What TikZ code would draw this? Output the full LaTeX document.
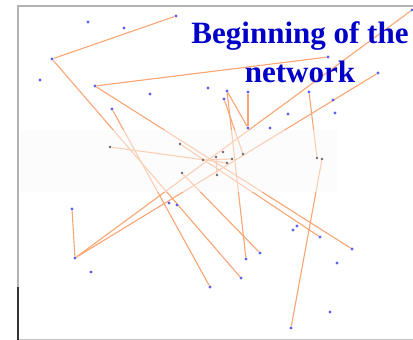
\documentclass[tikz,border=0pt]{standalone}
\usepackage{fontspec}
\setmainfont{Liberation Serif}
\pgfdeclarelayer{bg}
\pgfdeclarelayer{edges}
\pgfdeclarelayer{band}
\pgfsetlayers{bg,edges,band,main}
\definecolor{edgeorange}{RGB}{250,165,115}
\definecolor{dotblue}{RGB}{95,95,240}
\definecolor{dotgray}{RGB}{110,100,110}
\definecolor{titleblue}{RGB}{0,0,200}
\definecolor{bandtint}{RGB}{250,250,250}
\tikzset{
  dot/.style={circle, fill=dotblue, inner sep=0pt, minimum size=3.2pt},
  bdot/.style={circle, fill=dotgray, inner sep=0pt, minimum size=2.6pt},
  edge/.style={draw=edgeorange, line width=1.1pt},
  titletext/.style={font=\fontsize{31}{36}\selectfont\bfseries, text=titleblue, anchor=base, inner sep=0pt},
}
\begin{document}
\begin{tikzpicture}[x=1pt,y=-1pt]
\useasboundingbox (0,0) rectangle (413,340);
\begin{pgfonlayer}{bg}
\fill[white] (0,0) rectangle (413,340);
\end{pgfonlayer}
% frame
\draw[gray!45, line width=0.8pt] (17,339.5) -- (413,339.5);
\draw[gray!60, line width=2pt] (17.5,6) -- (17.5,287);
\draw[black!80, line width=2pt] (17.5,287) -- (17.5,340);
\draw[gray!60, line width=2pt] (16.5,6) -- (413,6);
% dots
\node[dot] (A) at (88,22) {};
\node[dot] (B) at (124,28) {};
\node[dot] (C) at (176,16) {};
\node[dot] (D) at (52,59) {};
\node[dot] (E) at (40,80) {};
\node[dot] (F) at (95,86) {};
\node[dot] (G) at (150,94) {};
\node[dot] (H) at (208,88) {};
\node[dot] (I) at (112,109) {};
\node[dot] (J) at (227,91) {};
\node[dot] (K) at (224,99) {};
\node[dot] (L) at (248,92) {};
\node[dot] (M) at (248,128) {};
\node[dot] (N) at (270,128) {};
\node[dot] (O) at (288,114) {};
\node[dot] (P) at (309,92) {};
\node[dot] (Q) at (333,100) {};
\node[dot] (R) at (335,113) {};
\node[dot] (S) at (378,73) {};
\node[dot] (T) at (328,57) {};
\node[dot] (U) at (412,10) {};
\node[dot] (V) at (72,209) {};
\node[dot] (W) at (75,258) {};
\node[dot] (X) at (91,272) {};
\node[dot] (Y) at (169,203) {};
\node[dot] (Z) at (177,205) {};
\node[dot] (a) at (210,287) {};
\node[dot] (b) at (241,278) {};
\node[dot] (c) at (246,259) {};
\node[dot] (d) at (260,253) {};
\node[dot] (e) at (293,230) {};
\node[dot] (f) at (297,226) {};
\node[dot] (g) at (320,237) {};
\node[dot] (h) at (352,249) {};
\node[dot] (i) at (337,263) {};
\node[dot] (j) at (330,312) {};
\node[dot] (k) at (291,328) {};
% band dots
\node[bdot] (m) at (110,147) {};
\node[bdot] (n) at (180,144) {};
\node[bdot] (o) at (182,173) {};
\node[bdot] (p) at (203,160) {};
\node[bdot] (q) at (216,157) {};
\node[bdot] (r) at (223,152) {};
\node[bdot] (s) at (217,175) {};
\node[bdot] (t) at (227,163) {};
\node[bdot] (w) at (232,159) {};
\node[bdot] (x) at (243,154) {};
\node[bdot] (u) at (317,158) {};
\node[bdot] (v) at (322,159) {};
% edges
\begin{pgfonlayer}{edges}
\draw[edge] (C) -- (D);
\draw[edge] (D) -- (b);
\draw[edge] (F) -- (T);
\draw[edge] (F) -- (h);
\draw[edge] (I) -- (a);
\draw[edge] (U) -- (W);
\draw[edge] (S) -- (W);
\draw[edge] (V) -- (W);
\draw[edge] (J) -- (M);
\draw[edge] (L) -- (M);
\draw[edge] (J) -- (c);
\draw[edge] (K) -- (x);
\draw[edge] (P) -- (u);
\draw[edge] (v) -- (k);
\draw[edge] (n) -- (g);
\draw[edge] (o) -- (d);
\draw[edge] (m) -- (t);
\draw[edge] (p) -- (w);
\draw[edge] (q) -- (s);
\end{pgfonlayer}
% faded band
\begin{pgfonlayer}{band}
\fill[bandtint, opacity=0.5] (20,130) rectangle (337,192);
\end{pgfonlayer}
% title
\node[titletext] (t1) at (300,43) {Beginning of the};
\node[titletext] (t2) at (300,82) {network};
\end{tikzpicture}
\end{document}
